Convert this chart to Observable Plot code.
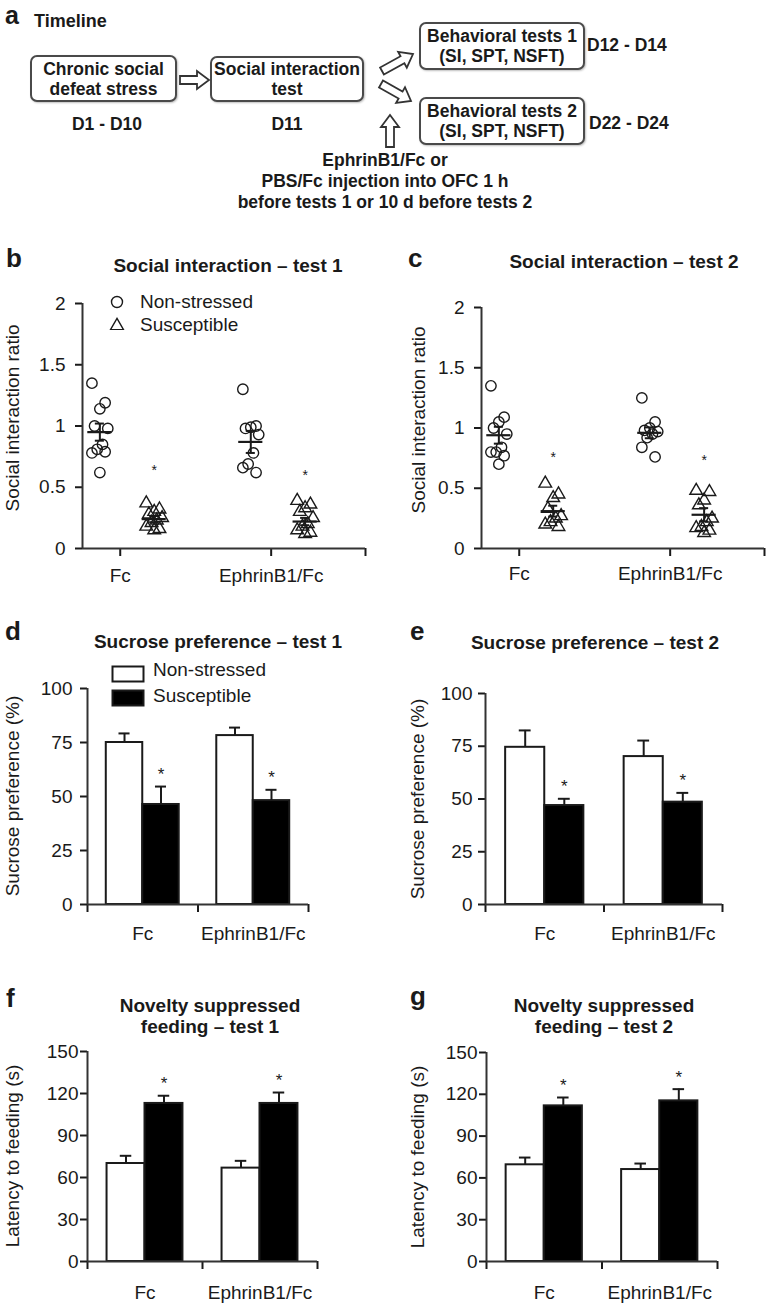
<!DOCTYPE html>
<html>
<head>
<meta charset="utf-8">
<script src="https://cdn.jsdelivr.net/npm/d3@7"></script>
<script src="https://cdn.jsdelivr.net/npm/@observablehq/plot@0.6"></script>
<style>
  body { margin: 0; background: #fff; }
  #fig { position: relative; width: 768px; height: 1304px; overflow: hidden; background: #fff;
         font-family: "Liberation Sans", Arial, sans-serif; color: #1a1a1a; }
  .t { position: absolute; white-space: nowrap; }
  .letter { font-weight: bold; font-size: 26px; line-height: 26px; }
  .title { font-weight: bold; font-size: 19px; line-height: 21px; text-align: center; transform: translateX(-50%); }
  .leg { font-size: 19px; line-height: 22px; }
  .diag { font-weight: bold; font-size: 17.5px; line-height: 20px; }
  .box { position: absolute; box-sizing: border-box; border: 2px solid #4a4a4a; border-radius: 7px;
         display: flex; justify-content: center; align-items: center;
         font-weight: bold; font-size: 17.5px; line-height: 20px; background: #fff; box-shadow: 1px 1px 2px rgba(0,0,0,0.25); }
  .box > div { text-align: center; white-space: nowrap; }
  .ylab { position: absolute; white-space: nowrap; font-size: 19px; line-height: 20px;
          transform: translate(-50%, -50%) rotate(-90deg); }
</style>
</head>
<body>
<div id="fig"></div>
<script>
// ---------------- data ----------------
const treatments = ["Fc", "EphrinB1/Fc"];
const groups = ["Non-stressed", "Susceptible"];

// Social interaction – test 1 (individual ratios)
const si1FcNon  = [1.35, 1.19, 1.14, 1.00, 0.98, 0.85, 0.81, 0.78, 0.79, 0.62];
const si1FcSus  = [0.37, 0.32, 0.30, 0.28, 0.25, 0.23, 0.21, 0.18, 0.16, 0.15];
const si1EphNon = [1.30, 1.00, 0.99, 0.98, 0.93, 0.78, 0.69, 0.66, 0.62];
const si1EphSus = [0.39, 0.36, 0.33, 0.30, 0.25, 0.20, 0.18, 0.15, 0.13, 0.12];
const si1Mean = [0.95, 0.24, 0.87, 0.22];
const si1Sem  = [0.07, 0.025, 0.09, 0.03];
const si1Star = [0.66, 0.62];

// Social interaction – test 2
const si2FcNon  = [1.35, 1.09, 1.05, 1.00, 0.95, 0.84, 0.80, 0.80, 0.77, 0.70];
const si2FcSus  = [0.54, 0.45, 0.42, 0.33, 0.27, 0.25, 0.22, 0.20, 0.18];
const si2EphNon = [1.25, 1.05, 1.00, 0.98, 0.97, 0.95, 0.92, 0.84, 0.76];
const si2EphSus = [0.48, 0.47, 0.40, 0.36, 0.25, 0.22, 0.18, 0.17, 0.15, 0.13];
const si2Mean = [0.94, 0.31, 0.96, 0.28];
const si2Sem  = [0.07, 0.045, 0.045, 0.055];
const si2Star = [0.78, 0.755];

// Sucrose preference (%) – order: Fc non, Fc sus, Eph non, Eph sus
const sp1Mean = [75.0, 46.3, 78.2, 48.1];
const sp1Sem  = [4.2, 8.3, 3.7, 5.0];
const sp2Mean = [74.5, 46.9, 70.1, 48.5];
const sp2Sem  = [8.0, 3.2, 7.6, 4.4];

// Novelty suppressed feeding, latency (s)
const nsf1Mean = [70.0, 112.9, 66.7, 112.9];
const nsf1Sem  = [5.5, 5.5, 5.2, 7.8];
const nsf2Mean = [69.4, 111.7, 66.0, 115.3];
const nsf2Sem  = [5.2, 6.0, 4.3, 8.4];

const siTicks  = [0, 0.5, 1, 1.5, 2];
const spTicks  = [0, 25, 50, 75, 100];
const nsfTicks = [0, 30, 60, 90, 120, 150];

// ---------------- helpers ----------------
const fig = document.getElementById("fig");
const INK = "#1a1a1a";
const FONT = "'Liberation Sans', Arial, sans-serif";

function addDiv(html, cls, css) {
  const d = document.createElement("div");
  d.className = cls;
  d.innerHTML = html;
  d.style.cssText = css;
  fig.appendChild(d);
  return d;
}
function place(node, left, top) {
  const d = document.createElement("div");
  d.style.cssText = `position:absolute;left:${left}px;top:${top}px;`;
  d.appendChild(node);
  fig.appendChild(d);
}
function yLabel(text, cx, cy) {
  addDiv(text, "ylab", `left:${cx}px;top:${cy}px;`);
}

const jit = k => (((k * 5) % 7) - 3) * 0.035;

function scatterChart({pts, mean, sem, star, ylabel, left, top, width, height, mL, mR, mT, mB, tickPad, labelX, xPad}) {
  const catPos = treatments.map((t, i) => 0.5 + 2 * i);
  const xEnd = 3.75;
  const grpOff = [-0.27, 0.45];
  const dots = [];
  pts.forEach((pair, i) => pair.forEach((vals, j) => vals.forEach((v, k) =>
    dots.push({g: groups[j], v, x: catPos[i] + grpOff[j] + jit(k)}))));
  const summ = [];
  treatments.forEach((t, i) => groups.forEach((g, j) =>
    summ.push({c: catPos[i] + grpOff[j], m: mean[2 * i + j], e: sem[2 * i + j]})));
  const stars = treatments.map((t, i) => ({c: catPos[i] + grpOff[1], s: star[i]}));
  const svg = Plot.plot({
    width, height, marginLeft: mL, marginRight: mR, marginTop: mT, marginBottom: mB,
    style: {fontFamily: FONT, fontSize: "19px", color: INK, background: "transparent", overflow: "visible"},
    x: {domain: [0, xEnd]},
    y: {domain: [0, 2]},
    marks: [
      Plot.dot(dots.filter(d => d.g === groups[0]), {x: "x", y: "v", symbol: "circle", r: 5.2, fill: "none", stroke: INK, strokeWidth: 1.4}),
      Plot.dot(dots.filter(d => d.g === groups[1]), {x: "x", y: "v", symbol: "triangle", r: 4.7, fill: "none", stroke: INK, strokeWidth: 1.4}),
      Plot.ruleY(summ, {y: "m", x1: d => d.c - 0.16, x2: d => d.c + 0.16, stroke: INK, strokeWidth: 2.2}),
      Plot.ruleX(summ, {x: "c", y1: d => d.m - d.e, y2: d => d.m + d.e, stroke: INK, strokeWidth: 2}),
      Plot.ruleY(summ, {y: d => d.m + d.e, x1: d => d.c - 0.06, x2: d => d.c + 0.06, stroke: INK, strokeWidth: 2}),
      Plot.ruleY(summ, {y: d => d.m - d.e, x1: d => d.c - 0.06, x2: d => d.c + 0.06, stroke: INK, strokeWidth: 2}),
      Plot.text(stars, {x: "c", y: "s", text: () => "*", fontSize: 14, dy: 3}),
      Plot.axisY({ticks: siTicks, tickFormat: d => String(d), tickSize: 7, tickPadding: tickPad, strokeWidth: 2, label: null}),
      Plot.axisX({ticks: [...catPos, xEnd], tickSize: 8, strokeWidth: 2, tickFormat: () => "", label: null}),
      Plot.axisX({ticks: catPos, tickSize: 0, tickPadding: xPad, tickFormat: d => treatments[catPos.indexOf(d)], label: null}),
      Plot.ruleX([0], {stroke: "#333", strokeWidth: 2}),
      Plot.ruleY([0], {stroke: "#333", strokeWidth: 2})
    ]
  });
  place(svg, left, top);
  yLabel(ylabel, left + labelX, top + mT + (height - mT - mB) / 2 - 8);
}

function barChart({mean, sem, ticks, ylabel, left, top, width, height, mL, mR, mT, mB, tickPad, labelX, xPad}) {
  const bw = 0.33;
  const rows = [];
  treatments.forEach((t, i) => groups.forEach((g, j) => {
    const c = i + 0.5;
    rows.push({g, x1: c + (j - 1) * bw, x2: c + j * bw, xc: c + (j - 0.5) * bw, v: mean[2 * i + j], e: sem[2 * i + j]});
  }));
  const bounds = d3.range(treatments.length + 1);
  const centers = treatments.map((t, i) => i + 0.5);
  const svg = Plot.plot({
    width, height, marginLeft: mL, marginRight: mR, marginTop: mT, marginBottom: mB,
    style: {fontFamily: FONT, fontSize: "19px", color: INK, background: "transparent", overflow: "visible"},
    x: {domain: [0, treatments.length]},
    y: {domain: [ticks[0], ticks[ticks.length - 1]]},
    color: {domain: groups, range: ["#ffffff", "#000000"]},
    marks: [
      Plot.ruleX(rows, {x: "xc", y1: "v", y2: d => d.v + d.e, stroke: INK, strokeWidth: 2}),
      Plot.ruleY(rows, {y: d => d.v + d.e, x1: d => d.xc - 0.05, x2: d => d.xc + 0.05, stroke: INK, strokeWidth: 2}),
      Plot.rectY(rows, {x1: "x1", x2: "x2", y1: 0, y2: "v", fill: "g", stroke: INK, strokeWidth: 2}),
      Plot.text(rows.filter(d => d.g === groups[1]), {x: "xc", y: d => d.v + d.e, text: () => "*", fontSize: 17, dy: -12}),
      Plot.axisY({ticks, tickSize: 7, tickPadding: tickPad, strokeWidth: 2, label: null}),
      Plot.axisX({ticks: bounds, tickSize: 8, strokeWidth: 2, tickFormat: () => "", label: null}),
      Plot.axisX({ticks: centers, tickSize: 0, tickPadding: xPad, tickFormat: d => treatments[centers.indexOf(d)], label: null}),
      Plot.ruleX([0], {stroke: "#333", strokeWidth: 2}),
      Plot.ruleY([0], {stroke: "#333", strokeWidth: 2})
    ]
  });
  place(svg, left, top);
  yLabel(ylabel, left + labelX, top + mT + (height - mT - mB) / 2);
}

// ---------------- panel a : timeline diagram ----------------
addDiv("a", "t letter", "left:5px;top:0px;font-size:25px;line-height:30px;");
addDiv("Timeline", "t", "left:34px;top:11px;font-weight:bold;font-size:18px;line-height:20px;");
addDiv("<div>Chronic social<br>defeat stress</div>", "box", "left:30px;top:55px;width:147px;height:47px;");
addDiv("<div>Social interaction<br>test</div>", "box", "left:210px;top:56px;width:154px;height:46px;");
addDiv("<div>Behavioral tests 1<br>(SI, SPT, NSFT)</div>", "box", "left:419px;top:22px;width:166px;height:48px;");
addDiv("<div>Behavioral tests 2<br>(SI, SPT, NSFT)</div>", "box", "left:419px;top:97px;width:166px;height:48px;");
addDiv("D1 - D10", "t diag", "left:107px;top:114px;transform:translateX(-50%);");
addDiv("D11", "t diag", "left:287px;top:114px;transform:translateX(-50%);");
addDiv("D12 - D14", "t diag", "left:587px;top:35px;");
addDiv("D22 - D24", "t diag", "left:589px;top:113px;");
addDiv("EphrinB1/Fc or<br>PBS/Fc injection into OFC 1 h<br>before tests 1 or 10 d before tests 2", "t diag",
       "left:385px;top:150px;transform:translateX(-50%);text-align:center;line-height:21px;");

(function arrows() {
  const svg = d3.create("svg").attr("width", 768).attr("height", 240)
    .style("position", "absolute").style("left", "0px").style("top", "0px");
  const list = [[180, 80, 209, 80], [382, 71, 413, 54], [381, 84, 411, 101], [390, 147, 390, 115]];
  for (const [x1, y1, x2, y2] of list) {
    const L = Math.hypot(x2 - x1, y2 - y1), ux = (x2 - x1) / L, uy = (y2 - y1) / L, nx = -uy, ny = ux;
    const hw = 4, hh = 9, hl = 12, bx = x2 - ux * hl, by = y2 - uy * hl;
    const p = [[x1 + nx * hw, y1 + ny * hw], [bx + nx * hw, by + ny * hw], [bx + nx * hh, by + ny * hh], [x2, y2],
               [bx - nx * hh, by - ny * hh], [bx - nx * hw, by - ny * hw], [x1 - nx * hw, y1 - ny * hw]];
    svg.append("polygon").attr("points", p.map(q => q.join(",")).join(" "))
      .attr("fill", "#fff").attr("stroke", "#333").attr("stroke-width", 1.8).attr("stroke-linejoin", "miter");
  }
  fig.appendChild(svg.node());
})();

// ---------------- panel letters & titles ----------------
addDiv("b", "t letter", "left:6px;top:245px;");
addDiv("c", "t letter", "left:408px;top:245px;");
addDiv("d", "t letter", "left:5px;top:618px;");
addDiv("e", "t letter", "left:410px;top:618px;");
addDiv("f", "t letter", "left:6px;top:985px;");
addDiv("g", "t letter", "left:410px;top:983px;");

addDiv("Social interaction – test 1", "t title", "left:228px;top:255px;");
addDiv("Social interaction – test 2", "t title", "left:624px;top:251px;");
addDiv("Sucrose preference – test 1", "t title", "left:218px;top:631px;");
addDiv("Sucrose preference – test 2", "t title", "left:595px;top:632px;");
addDiv("Novelty suppressed<br>feeding – test 1", "t title", "left:210px;top:995px;");
addDiv("Novelty suppressed<br>feeding – test 2", "t title", "left:604px;top:995px;");

// ---------------- charts ----------------
scatterChart({pts: [[si1FcNon, si1FcSus], [si1EphNon, si1EphSus]], mean: si1Mean, sem: si1Sem, star: si1Star,
  ylabel: "Social interaction ratio", left: 0, top: 283, width: 384, height: 310,
  mL: 82, mR: 19, mT: 20, mB: 45, tickPad: 10, labelX: 13, xPad: 20});
scatterChart({pts: [[si2FcNon, si2FcSus], [si2EphNon, si2EphSus]], mean: si2Mean, sem: si2Sem, star: si2Star,
  ylabel: "Social interaction ratio", left: 384, top: 283, width: 384, height: 310,
  mL: 97, mR: 4, mT: 24, mB: 45, tickPad: 10, labelX: 35, xPad: 18});

barChart({mean: sp1Mean, sem: sp1Sem, ticks: spTicks, ylabel: "Sucrose preference (%)",
  left: 0, top: 670, width: 384, height: 280, mL: 87, mR: 76, mT: 18, mB: 46, tickPad: 8, labelX: 13, xPad: 22});
barChart({mean: sp2Mean, sem: sp2Sem, ticks: spTicks, ylabel: "Sucrose preference (%)",
  left: 384, top: 670, width: 384, height: 280, mL: 101, mR: 46, mT: 23, mB: 46, tickPad: 6, labelX: 34, xPad: 22});
barChart({mean: nsf1Mean, sem: nsf1Sem, ticks: nsfTicks, ylabel: "Latency to feeding (s)",
  left: 0, top: 1035, width: 384, height: 269, mL: 87, mR: 67, mT: 16, mB: 43, tickPad: 2, labelX: 13, xPad: 24});
barChart({mean: nsf2Mean, sem: nsf2Sem, ticks: nsfTicks, ylabel: "Latency to feeding (s)",
  left: 384, top: 1035, width: 384, height: 269, mL: 102, mR: 51, mT: 17, mB: 43, tickPad: 2, labelX: 34, xPad: 24});

// ---------------- legends ----------------
(function legends() {
  const s = d3.create("svg").attr("width", 30).attr("height", 40)
    .style("position", "absolute").style("left", "102px").style("top", "290px");
  s.append("circle").attr("cx", 15).attr("cy", 12).attr("r", 5.5).attr("fill", "none").attr("stroke", INK).attr("stroke-width", 1.4);
  s.append("path").attr("d", d3.symbol(d3.symbolTriangle, Math.PI * 4.9 * 4.9)()).attr("transform", "translate(15,36)")
    .attr("fill", "none").attr("stroke", INK).attr("stroke-width", 1.4);
  fig.appendChild(s.node());
  addDiv(groups[0], "t leg", "left:140px;top:291px;");
  addDiv(groups[1], "t leg", "left:140px;top:314px;");
  const b = d3.create("svg").attr("width", 40).attr("height", 44)
    .style("position", "absolute").style("left", "108px").style("top", "663px");
  b.append("rect").attr("x", 4.5).attr("y", 3.5).attr("width", 31).attr("height", 15).attr("fill", "#fff").attr("stroke", INK).attr("stroke-width", 2);
  b.append("rect").attr("x", 4.5).attr("y", 27.5).attr("width", 31).attr("height", 15).attr("fill", "#000").attr("stroke", INK).attr("stroke-width", 2);
  fig.appendChild(b.node());
  addDiv(groups[0], "t leg", "left:153px;top:659px;");
  addDiv(groups[1], "t leg", "left:153px;top:685px;");
})();
</script>
</body>
</html>
